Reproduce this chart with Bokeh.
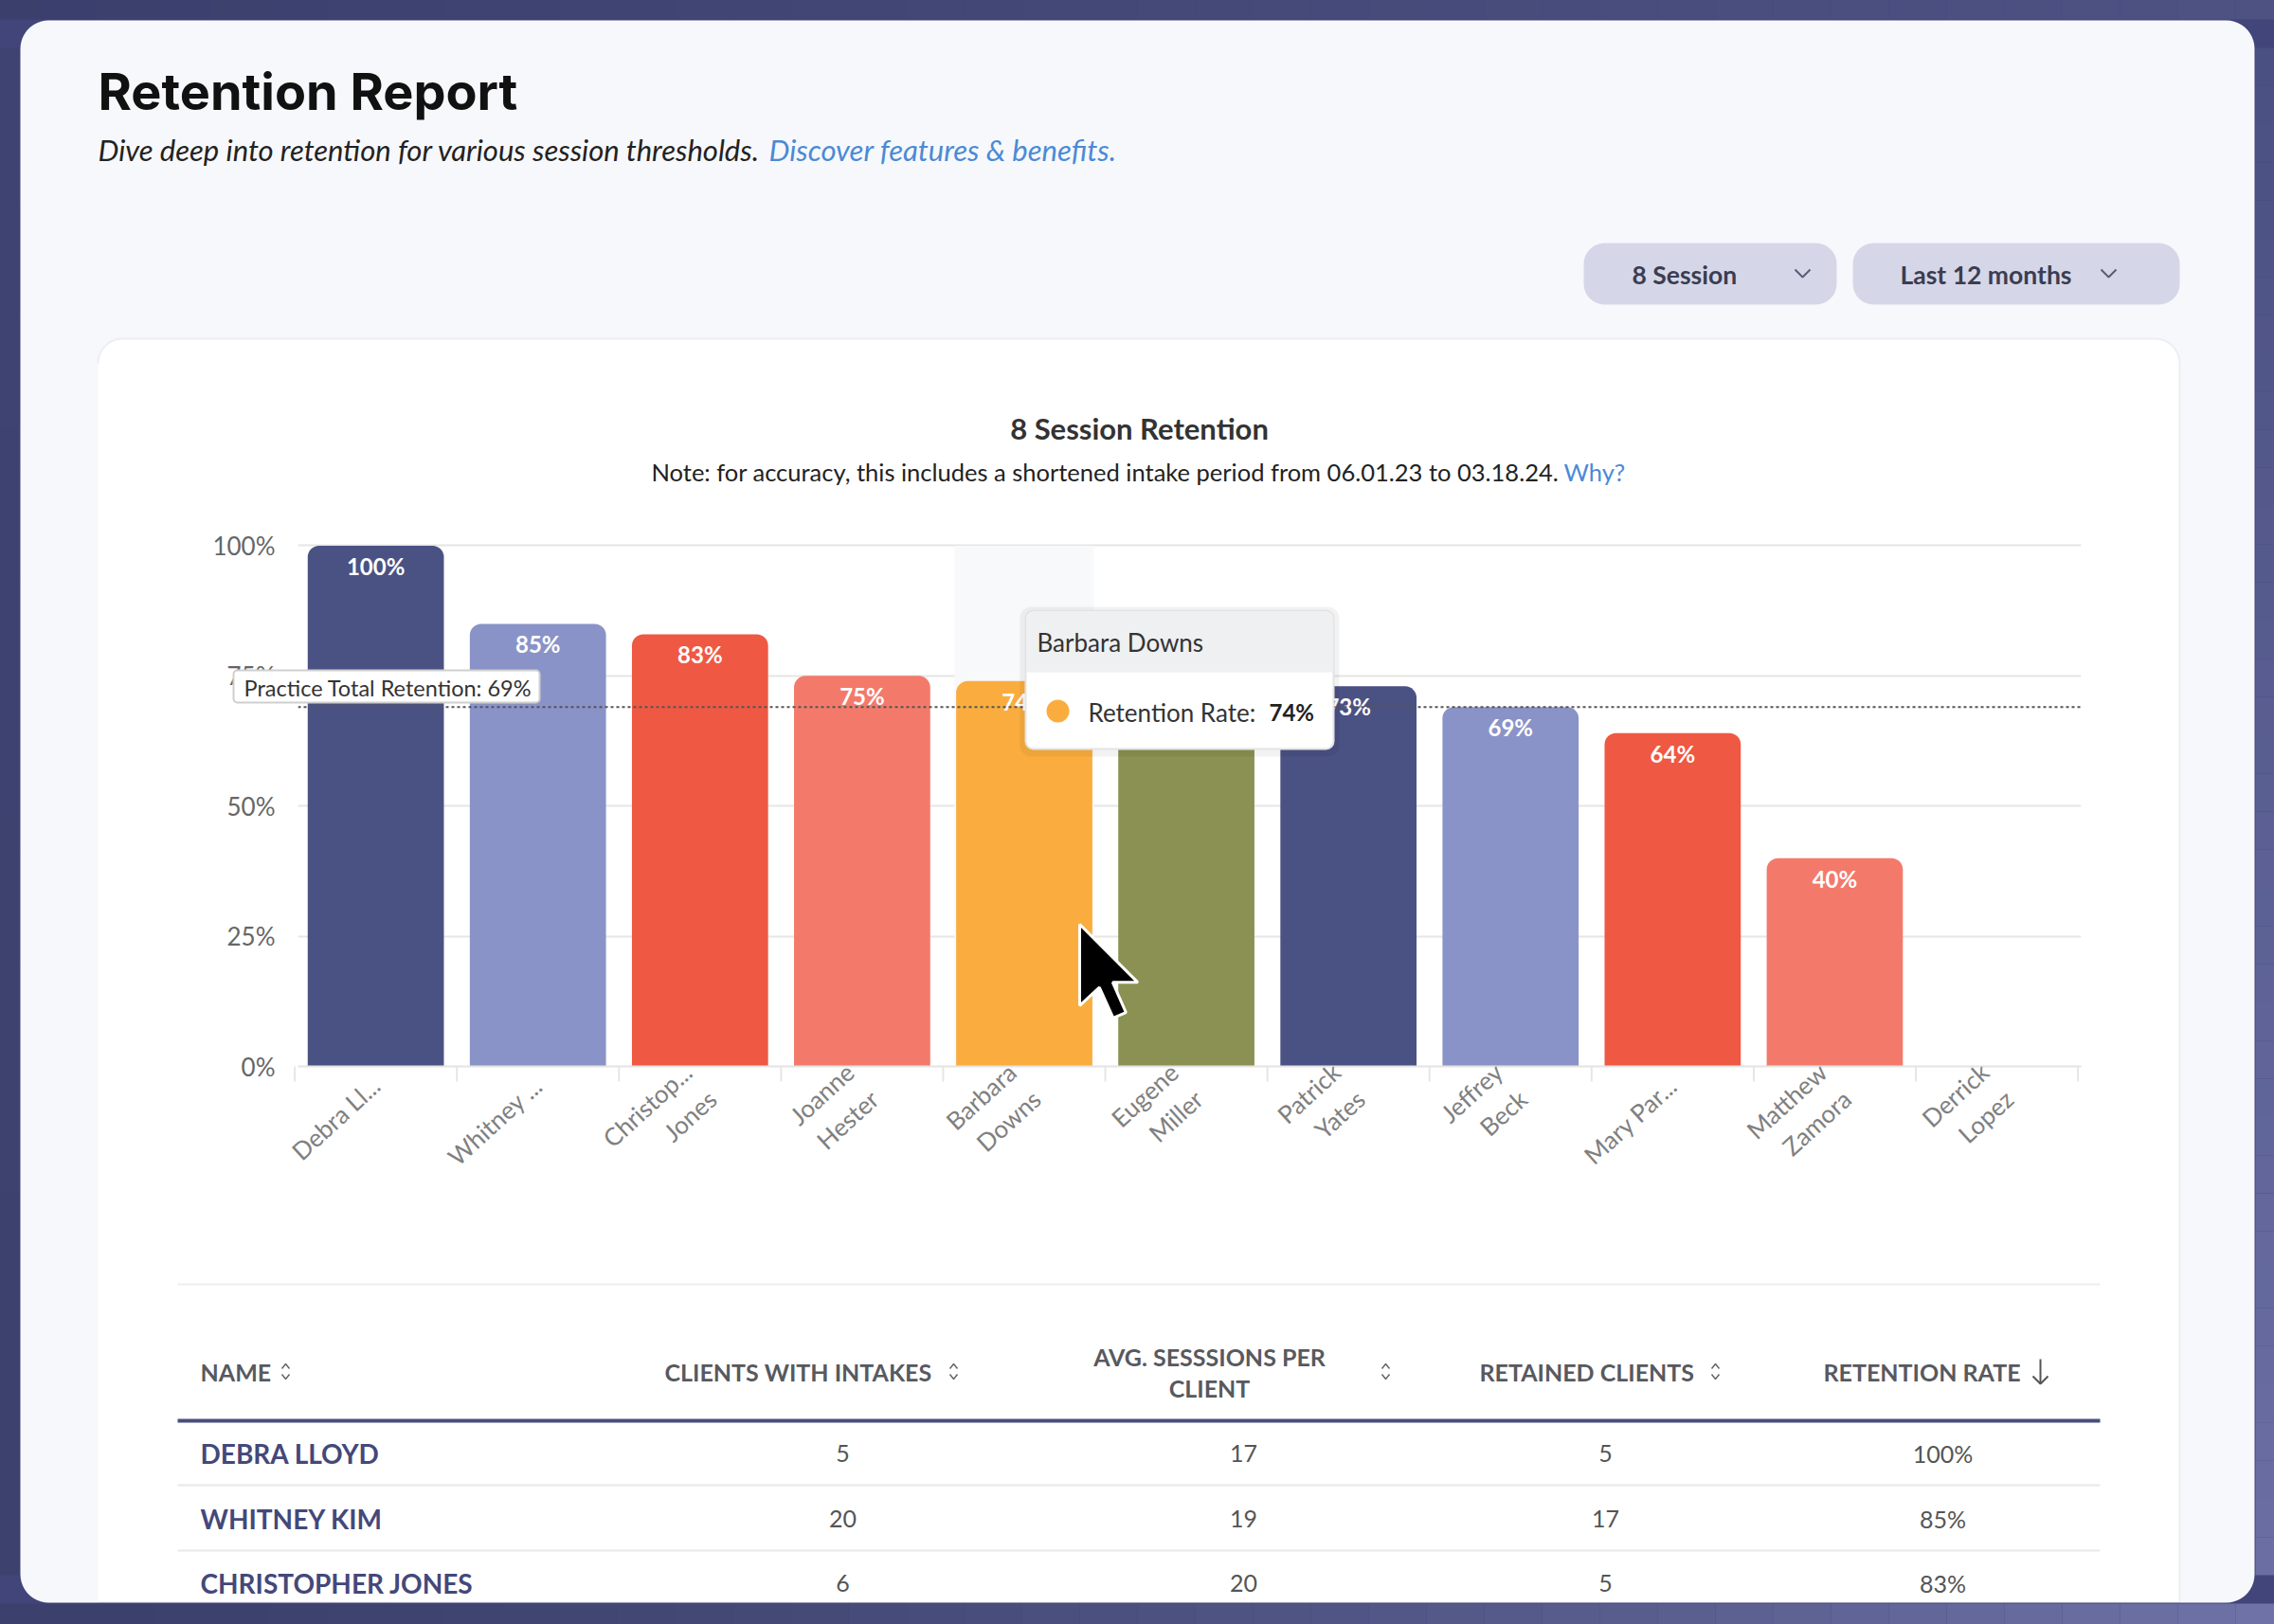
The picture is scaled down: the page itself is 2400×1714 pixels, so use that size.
import numpy as np
from bokeh.plotting import figure
from bokeh.models import Range1d, FixedTicker, PrintfTickFormatter, Span, ColumnDataSource
from bokeh.core.properties import value
from bokeh.embed import file_html
from bokeh.resources import INLINE

# ---------------- data ----------------
bar_labels = ["Debra Ll...", "Whitney ...", "Christop...\nJones", "Joanne\nHester",
              "Barbara\nDowns", "Eugene\nMiller", "Patrick\nYates", "Jeffrey\nBeck",
              "Mary Par...", "Matthew\nZamora", "Derrick\nLopez"]
retention = [100, 85, 83, 75, 74, 74, 73, 69, 64, 40, 0]
bar_colors = ["#4a5284", "#8a93c7", "#ef5843", "#f37a6b", "#faad3e", "#8b9152",
              "#4a5284", "#8a93c7", "#ef5843", "#f37a6b", "#faad3e"]
practice_total = 69
hover_index = 4
hover_name = "Barbara Downs"
y_ticks = [0, 25, 50, 75, 100]

table_names = ["DEBRA LLOYD", "WHITNEY KIM", "CHRISTOPHER JONES"]
table_intakes = [5, 20, 6]
table_avg_sessions = [17, 19, 20]
table_retained = [5, 17, 5]
table_rates = [100, 85, 83]

# ---------------- layout constants (page pixels) ----------------
W, H = 2400, 1714
FL, FR, FT, FB = 314, 2196, 570, 1125
LATO = value("Lato")

n = len(bar_labels)
centers = [i + 0.5 for i in range(n)]

p = figure(width=W, height=H, output_backend="svg", toolbar_location=None, tools="",
           x_range=Range1d(0.02, n + 0.02), y_range=Range1d(0, 101),
           min_border_left=FL, min_border_right=W - FR,
           min_border_top=FT, min_border_bottom=H - FB)
p.extra_x_ranges = {"px": Range1d(FL, FR)}
p.extra_y_ranges = {"py": Range1d(FB, FT)}
p.outline_line_color = None
p.background_fill_color = "white"
p.border_fill_color = "white"

# grid / axes
p.xgrid.visible = False
p.ygrid.ticker = FixedTicker(ticks=y_ticks)
p.ygrid.grid_line_color = "#e6e6e6"
p.ygrid.grid_line_width = 2

p.yaxis.ticker = FixedTicker(ticks=y_ticks)
p.yaxis.formatter = PrintfTickFormatter(format="%d%%")
p.yaxis.axis_line_color = None
p.yaxis.major_tick_line_color = None
p.yaxis.minor_tick_line_color = None
p.yaxis.major_tick_out = 0
p.yaxis.major_label_standoff = 24
p.yaxis.major_label_text_font = "Lato"
p.yaxis.major_label_text_font_size = "26px"
p.yaxis.major_label_text_color = "#666666"

p.xaxis.ticker = FixedTicker(ticks=centers)
p.xaxis.major_label_overrides = {c: lbl for c, lbl in zip(centers, bar_labels)}
p.xaxis.axis_line_color = "#e3e3e3"
p.xaxis.axis_line_width = 2
p.xaxis.major_tick_line_color = None
p.xaxis.minor_tick_line_color = None
p.xaxis.major_tick_out = 0
p.xaxis.major_label_standoff = 16
p.xaxis.major_label_orientation = 0.74
p.xaxis.major_label_text_font = "Lato"
p.xaxis.major_label_text_font_size = "26px"
p.xaxis.major_label_text_color = "#808080"

# hover band behind the hovered column
p.vbar(x=[centers[hover_index]], top=[100], width=0.86, fill_color="#f8f9fb",
       line_color=None)

# bars
src = ColumnDataSource(dict(x=centers, top=retention, color=bar_colors))
p.vbar(x="x", top="top", width=0.84, fill_color="color", line_color=None,
       border_radius=(12, 12, 0, 0), source=src)

lab = ColumnDataSource(dict(
    x=[c for c, v in zip(centers, retention) if v > 0],
    y=[v for v in retention if v > 0],
    t=[f"{v}%" for v in retention if v > 0]))
p.text(x="x", y="y", text="t", source=lab, text_align="center", text_baseline="top",
       y_offset=7, text_color="white", text_font=LATO, text_font_style="bold",
       text_font_size="24px")

# practice total dashed line
p.add_layout(Span(location=practice_total, dimension="width", line_color="#555555",
                  line_dash="3 3", line_width=2))


def ov(method, **kw):
    return getattr(p, method)(x_range_name="px", y_range_name="py", level="overlay", **kw)


def txt(x, y, s, size, color="#222222", style="normal", font=LATO, align="left",
        baseline="middle"):
    ov("text", x=[x], y=[y], text=[s], text_font=font, text_font_size=f"{size}px",
       text_font_style=style, text_color=color, text_align=align, text_baseline=baseline)


def rrect(x0, y0, x1, y1, r, corners=(1, 1, 1, 1), k=12):
    cs = [(x0 + r, y0 + r, np.pi, 1.5 * np.pi, (x0, y0)),
          (x1 - r, y0 + r, 1.5 * np.pi, 2 * np.pi, (x1, y0)),
          (x1 - r, y1 - r, 0, 0.5 * np.pi, (x1, y1)),
          (x0 + r, y1 - r, 0.5 * np.pi, np.pi, (x0, y1))]
    xs, ys = [], []
    for (cx, cy, a0, a1, sq), on in zip(cs, corners):
        if on:
            t = np.linspace(a0, a1, k)
            xs += list(cx + r * np.cos(t))
            ys += list(cy + r * np.sin(t))
        else:
            xs.append(sq[0])
            ys.append(sq[1])
    return xs, ys


def mix(c0, c1, t):
    a = [int(c0[i:i + 2], 16) for i in (1, 3, 5)]
    b = [int(c1[i:i + 2], 16) for i in (1, 3, 5)]
    return "#%02x%02x%02x" % tuple(int(round(u + (v - u) * t)) for u, v in zip(a, b))


# practice total label box
ov("quad", left=[246], right=[569], top=[707], bottom=[741], fill_color="white",
   line_color="#cfcfcf", line_width=2, border_radius=4)
txt(257, 725, f"Practice Total Retention: {practice_total}%", 23.5, "#333333")

# tooltip (hover state)
ov("quad", left=[1076], right=[1413], top=[640], bottom=[798], fill_color="black",
   fill_alpha=0.05, line_color=None, border_radius=12)
ov("quad", left=[1082], right=[1407], top=[644], bottom=[790], fill_color="white",
   line_color="#e3e3e3", line_width=2, border_radius=8)
ov("quad", left=[1083], right=[1406], top=[645], bottom=[709], fill_color="#eef0f2",
   line_color=None, border_radius=(8, 8, 0, 0))
txt(1094, 677, hover_name, 26, "#333333")
ov("scatter", x=[1116], y=[750], size=24, fill_color=bar_colors[hover_index], line_color=None)
txt(1148, 751, "Retention Rate:", 26, "#333333")
txt(1339, 751, f"{retention[hover_index]}%", 24, "#222222", "bold")

# mouse pointer
arrow = np.array([(0, 0), (0, 16.5), (4, 12.8), (6.8, 19), (9.4, 17.9), (6.7, 11.8), (11.8, 11.8)])
ov("patch", x=list(1139 + 5.2 * arrow[:, 0]), y=list(975 + 5.2 * arrow[:, 1]),
   fill_color="black", line_color="white", line_width=3)

# category boundary ticks
ticks = list(range(n + 1))
p.segment(x0=ticks, y0=[FB] * len(ticks), x1=ticks, y1=[FB + 16] * len(ticks),
          y_range_name="py", level="overlay", line_color="#e6e6e6", line_width=2)

# page background: light card (with hole for the white chart card) and dark frame
card = rrect(21, 21, 2379, 1691, 30)
white = rrect(103, 357, 2300, 1691, 26, corners=(1, 1, 0, 0))
ov("multi_polygons", xs=[[[card[0], white[0][::-1]]]], ys=[[[card[1], white[1][::-1]]]],
   fill_color="#f7f8fb", line_color=None)
ov("line", x=white[0], y=white[1], line_color="#eceef3", line_width=2)
outer_x = [-20, 2420, 2420, -20]
outer_y = [-20, -20, 1740, 1740]
ov("multi_polygons", xs=[[[outer_x, card[0][::-1]]]], ys=[[[outer_y, card[1][::-1]]]],
   fill_color="#41457a", line_color=None)
# subtle gradient on the outer frame bands
k = 40
xs_edges = np.linspace(-20, 2420, k + 1)
ov("quad", left=xs_edges[:-1], right=xs_edges[1:], top=[-20] * k, bottom=[20] * k,
   fill_color=[mix("#3b3f6c", "#4d5283", i / (k - 1)) for i in range(k)], line_color=None)
ov("quad", left=xs_edges[:-1], right=xs_edges[1:], top=[1692] * k, bottom=[1740] * k,
   fill_color=[mix("#3c406c", "#6e72a6", (i / (k - 1)) ** 1.6) for i in range(k)],
   line_color=None)
ys_edges = np.linspace(50, 1662, k + 1)
ov("quad", left=[2380] * k, right=[2420] * k, top=ys_edges[:-1], bottom=ys_edges[1:],
   fill_color=[mix("#4b5082", "#6a6ea3", i / (k - 1)) for i in range(k)], line_color=None)
ov("quad", left=[-20] * k, right=[20] * k, top=ys_edges[:-1], bottom=ys_edges[1:],
   fill_color=[mix("#3f4372", "#3d416d", i / (k - 1)) for i in range(k)], line_color=None)

# header texts
txt(103, 96, "Retention Report", 54, "#111111", "bold", value("Inter"))
txt(103, 157, "Dive deep into retention for various session thresholds.", 31,
    "#222222", "italic")
txt(811, 157, "Discover features & benefits.", 31, "#4a8ad6", "italic")

# dropdown pills
ov("quad", left=[1671, 1955], right=[1938, 2300], top=[256, 256], bottom=[321, 321],
   fill_color="#d5d7e8", line_color=None, border_radius=22)
txt(1722, 289, "8 Session", 26.5, "#3b3d52", "bold")
txt(2005, 289, "Last 12 months", 26.5, "#3b3d52", "bold")
for cx in (1902, 2225):
    ov("line", x=[cx - 8, cx, cx + 8], y=[284, 292, 284], line_color="#5a5d75", line_width=2)

# chart title + note
txt(1202, 451, "8 Session Retention", 31, "#333333", "bold", align="center")
txt(687, 497, "Note: for accuracy, this includes a shortened intake period from "
    "06.01.23 to 03.18.24.", 25.5, "#222222")
txt(1650, 497, "Why?", 25.5, "#4a8ad6")

# table
ov("segment", x0=[187], y0=[1355], x1=[2216], y1=[1355], line_color="#eeeeee", line_width=2)
hdr_col = "#58595f"
txt(211, 1447, "NAME", 25, hdr_col, "bold")
txt(701, 1447, "CLIENTS WITH INTAKES", 25, hdr_col, "bold")
txt(1276, 1431, "AVG. SESSSIONS PER", 25, hdr_col, "bold", align="center")
txt(1276, 1464, "CLIENT", 25, hdr_col, "bold", align="center")
txt(1561, 1447, "RETAINED CLIENTS", 25, hdr_col, "bold")
txt(1924, 1447, "RETENTION RATE", 25, hdr_col, "bold")
for cx, cy in ((301, 1447), (1006, 1447), (1462, 1447), (1810, 1447)):
    ov("multi_line", xs=[[cx - 4, cx, cx + 4], [cx - 4, cx, cx + 4]],
       ys=[[cy - 3, cy - 8, cy - 3], [cy + 3, cy + 8, cy + 3]],
       line_color="#666666", line_width=1.5)
ov("multi_line", xs=[[2153, 2153], [2145, 2153, 2161]], ys=[[1434, 1460], [1452, 1460, 1452]],
   line_color="#555555", line_width=2)
ov("segment", x0=[187], y0=[1499], x1=[2216], y1=[1499], line_color="#4b4f7c", line_width=4)
row_y = [1533, 1602, 1670]
ov("segment", x0=[187, 187], y0=[1567, 1636], x1=[2216, 2216], y1=[1567, 1636],
   line_color="#e8e8e8", line_width=2)
for i, ry in enumerate(row_y):
    txt(211, ry, table_names[i], 28, "#44487a", "bold")
    txt(889, ry, str(table_intakes[i]), 25, "#555555", align="center")
    txt(1312, ry, str(table_avg_sessions[i]), 25, "#555555", align="center")
    txt(1694, ry, str(table_retained[i]), 25, "#555555", align="center")
    txt(2050, ry, f"{table_rates[i]}%", 25, "#555555", align="center")

open("out.html", "w").write(file_html(p, INLINE))
